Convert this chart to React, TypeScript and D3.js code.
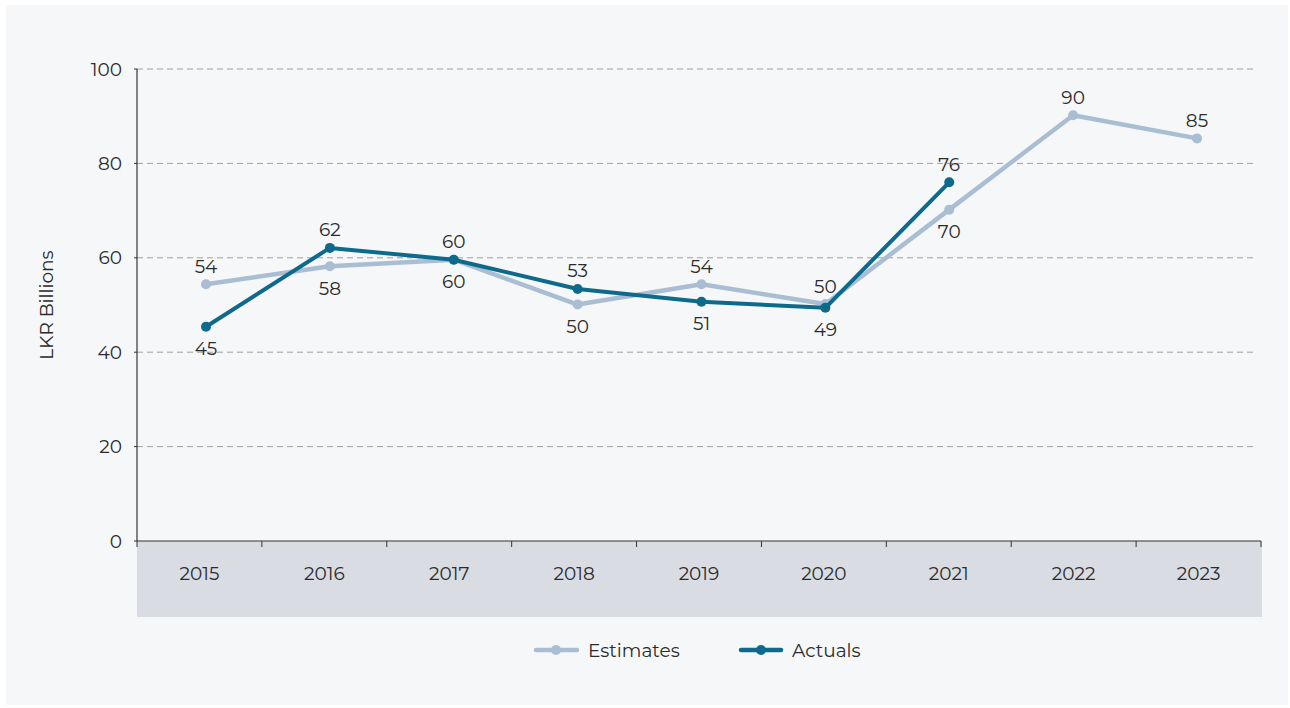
import React from "react";
import * as d3 from "d3";

const years = ["2015", "2016", "2017", "2018", "2019", "2020", "2021", "2022", "2023"];
const estimates = [54.4, 58.2, 59.6, 50.1, 54.4, 50.2, 70.2, 90.2, 85.3];
const actuals = [45.4, 62.1, 59.6, 53.4, 50.7, 49.4, 76.0];
const yTicks = [0, 20, 40, 60, 80, 100];
// label placement: 1 = above point, -1 = below point
const estLabelSide = [1, -1, -1, -1, 1, 1, -1, 1, 1];
const actLabelSide = [-1, 1, 1, 1, -1, -1, 1];

const W = 1290;
const H = 708;
const FONT = "Montserrat, 'Open Sans', 'Noto Sans', sans-serif";
const EST_COLOR = "#a9bdd3";
const ACT_COLOR = "#0e6a8b";
const TEXT = "#2b2b2b";

export default function App() {
  const left = 137, right = 1261, top = 69, bottom = 541;
  const x = d3.scaleBand<string>().domain(years).range([left, right]);
  const xp = d3.scalePoint<string>().domain(years).range([206, 1197]);
  const y = d3.scaleLinear().domain([0, 100]).range([bottom, top]);
  const line = d3
    .line<number>()
    .x((_, i) => xp(years[i]) as number)
    .y((d) => y(d));

  const labels = (vals: number[], sides: number[], key: string) =>
    vals.map((v, i) => (
      <text
        key={key + i}
        x={xp(years[i]) as number}
        y={y(v) - (sides[i] > 0 ? 18 : -22)}
        textAnchor="middle"
        dominantBaseline="central"
        fontSize={18.5}
        fill={TEXT}
      >
        {Math.round(v)}
      </text>
    ));

  return (
    <div style={{ position: "absolute", left: 0, top: 0 }}>
      <svg width={W} height={H} style={{ display: "block", fontFamily: FONT }}>
        <rect x={0} y={0} width={W} height={H} fill="#ffffff" />
        <rect x={6} y={5} width={1282} height={700} fill="#f6f7f9" />
        {/* category band */}
        <rect x={left} y={bottom} width={right - left + 1} height={76} fill="#d9dce3" />
        {/* gridlines */}
        {yTicks.filter((t) => t > 0).map((t) => (
          <line
            key={"g" + t}
            x1={left}
            x2={1255}
            y1={y(t)}
            y2={y(t)}
            stroke="#a0a0a0"
            strokeWidth={1}
            strokeDasharray="6,4"
          />
        ))}
        {yTicks.map((t) => (
          <g key={"yt" + t}>
            <line x1={left - 3} x2={left} y1={y(t)} y2={y(t)} stroke="#333" />
            <text
              x={122}
              y={y(t)}
              textAnchor="end"
              dominantBaseline="central"
              fontSize={18.5}
              fill={TEXT}
            >
              {t}
            </text>
          </g>
        ))}
        <line x1={left} x2={left} y1={top} y2={bottom} stroke="#333" strokeWidth={1.2} />
        <line x1={left} x2={right} y1={bottom} y2={bottom} stroke="#333" strokeWidth={1.2} />
        {years.map((yr) => (
          <line
            key={"xt" + yr}
            x1={x(yr) as number}
            x2={x(yr) as number}
            y1={bottom}
            y2={bottom + 6}
            stroke="#333"
          />
        ))}
        <line x1={right} x2={right} y1={bottom} y2={bottom + 6} stroke="#333" />
        {years.map((yr) => (
          <text
            key={"xl" + yr}
            x={(x(yr) as number) + x.bandwidth() / 2}
            y={573}
            textAnchor="middle"
            dominantBaseline="central"
            fontSize={18.5}
            fill={TEXT}
          >
            {yr}
          </text>
        ))}
        <text
          transform={`translate(46,305) rotate(-90)`}
          textAnchor="middle"
          dominantBaseline="central"
          fontSize={18.5}
          fill={TEXT}
        >
          LKR Billions
        </text>
        {/* series */}
        <path d={line(estimates) || ""} fill="none" stroke={EST_COLOR} strokeWidth={4.5} strokeLinejoin="round" />
        {estimates.map((v, i) => (
          <circle key={"ec" + i} cx={xp(years[i]) as number} cy={y(v)} r={5} fill={EST_COLOR} />
        ))}
        <path d={line(actuals) || ""} fill="none" stroke={ACT_COLOR} strokeWidth={4} strokeLinejoin="round" />
        {actuals.map((v, i) => (
          <circle key={"ac" + i} cx={xp(years[i]) as number} cy={y(v)} r={5} fill={ACT_COLOR} />
        ))}
        {labels(estimates, estLabelSide, "el")}
        {labels(actuals, actLabelSide, "al")}
        {/* legend */}
        <line x1={536} x2={577} y1={650} y2={650} stroke={EST_COLOR} strokeWidth={4.5} strokeLinecap="round" />
        <circle cx={556} cy={650} r={5} fill={EST_COLOR} />
        <text x={588} y={650} dominantBaseline="central" fontSize={18.5} fill={TEXT}>
          Estimates
        </text>
        <line x1={741} x2={781} y1={650} y2={650} stroke={ACT_COLOR} strokeWidth={4.5} strokeLinecap="round" />
        <circle cx={761} cy={650} r={5} fill={ACT_COLOR} />
        <text x={792} y={650} dominantBaseline="central" fontSize={18.5} fill={TEXT}>
          Actuals
        </text>
      </svg>
    </div>
  );
}
